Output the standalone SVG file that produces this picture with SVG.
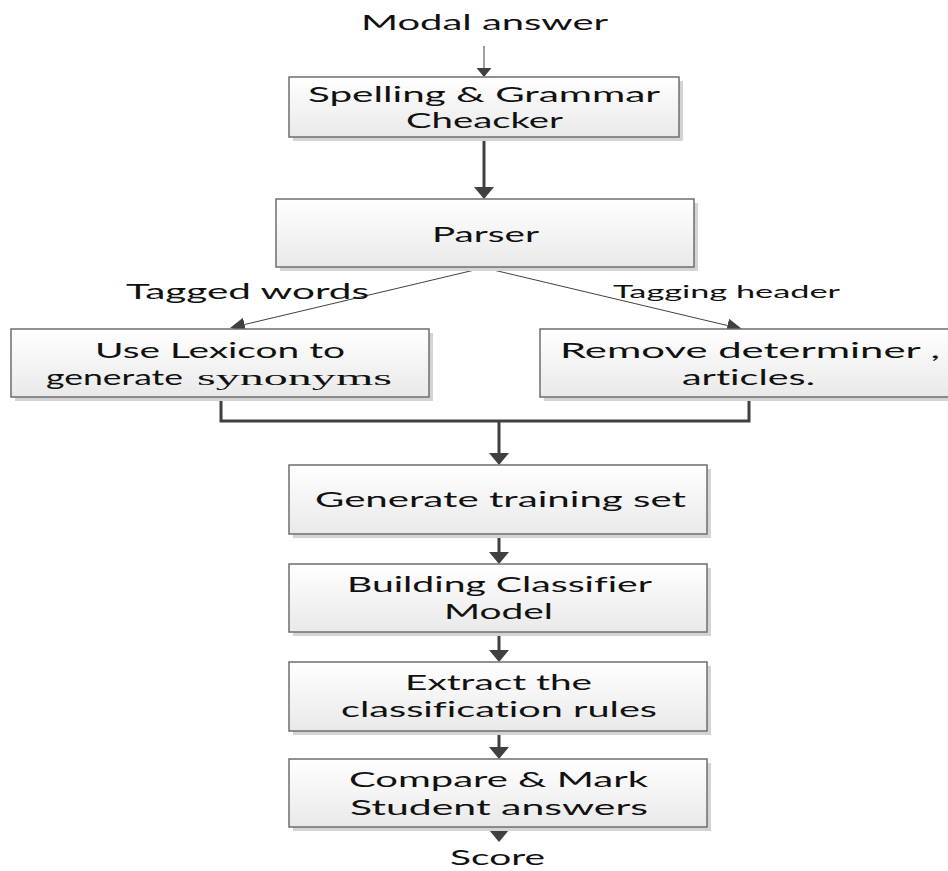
<svg xmlns="http://www.w3.org/2000/svg" width="948" height="871" viewBox="0 0 948 871">
<style>
  .box{fill:url(#gf);stroke:#6e6e6e;stroke-width:1.5}
  .sh{fill:#d4d4d4}
  .t{font-family:Lato,"Open Sans",sans-serif;font-size:21px;fill:#111;font-variant-ligatures:none}
  .ts{font-family:Lato,"Open Sans",sans-serif;font-size:16.5px;fill:#111;font-variant-ligatures:none}
  .tr{font-family:"Liberation Serif","Times New Roman",serif;font-size:21px;fill:#111}
  .thick{stroke:#404040;stroke-width:3;fill:none}
  .thin{stroke:#404040;stroke-width:1;fill:none}
</style>
<defs>
  <linearGradient id="gf" x1="0" y1="0" x2="0" y2="1">
    <stop offset="0" stop-color="#ffffff"/>
    <stop offset="1" stop-color="#e9e9e9"/>
  </linearGradient>
  <marker id="ah" markerUnits="userSpaceOnUse" markerWidth="14" markerHeight="22" viewBox="0 -11 14 22" refX="0" refY="0" orient="auto">
    <path d="M0,-10 L12,0 L0,10 z" fill="#404040"/>
  </marker>
  <marker id="as" markerUnits="userSpaceOnUse" markerWidth="10" markerHeight="16" viewBox="0 -8 10 16" refX="0" refY="0" orient="auto">
    <path d="M0,-7.5 L9,0 L0,7.5 z" fill="#404040"/>
  </marker>
  <marker id="ab" markerUnits="userSpaceOnUse" markerWidth="16" markerHeight="16" viewBox="0 -8 16 16" refX="0" refY="0" orient="auto">
    <path d="M0,-7 L15,0 L0,7 z" fill="#404040"/>
  </marker>
</defs>
<rect width="948" height="871" fill="#ffffff"/>

<g id="connectors">
  <line class="thin" x1="484" y1="46" x2="484" y2="68" marker-end="url(#as)"/>
  <line class="thick" x1="484" y1="137" x2="484" y2="187" marker-end="url(#ah)"/>
  <line class="thin" x1="483" y1="268" x2="244.6" y2="324.5" marker-end="url(#ab)"/>
  <line class="thin" x1="485" y1="268" x2="727.4" y2="325.5" marker-end="url(#ab)"/>
  <polyline class="thick" points="221,397 221,421 749,421 749,397"/>
  <line class="thick" x1="499" y1="421" x2="499" y2="453" marker-end="url(#ah)"/>
  <line class="thick" x1="499" y1="534" x2="499" y2="552" marker-end="url(#ah)"/>
  <line class="thick" x1="499" y1="632" x2="499" y2="650" marker-end="url(#ah)"/>
  <line class="thick" x1="499" y1="731" x2="499" y2="747" marker-end="url(#ah)"/>
  <line class="thick" x1="499" y1="827" x2="499" y2="830" marker-end="url(#ah)"/>
</g>

<g id="modal">
  <text class="t" x="361" y="30" textLength="247" lengthAdjust="spacingAndGlyphs">Modal answer</text>
</g>

<g id="spell">
  <rect class="sh" x="293" y="81" width="390" height="60"/>
  <rect class="box" x="289" y="77" width="390" height="60"/>
  <text class="t" x="308" y="102" textLength="352" lengthAdjust="spacingAndGlyphs">Spelling &amp; Grammar</text>
  <text class="t" x="406" y="128" textLength="157" lengthAdjust="spacingAndGlyphs">Cheacker</text>
</g>

<g id="parser">
  <rect class="sh" x="280" y="203" width="418" height="68"/>
  <rect class="box" x="276" y="199" width="418" height="68"/>
  <text class="t" x="432" y="242" textLength="107" lengthAdjust="spacingAndGlyphs">Parser</text>
</g>

<g id="label-tagged">
  <text class="t" x="126" y="299" textLength="243" lengthAdjust="spacingAndGlyphs">Tagged words</text>
</g>
<g id="label-header">
  <text class="ts" x="613" y="298" textLength="227" lengthAdjust="spacingAndGlyphs">Tagging header</text>
</g>

<g id="lexicon">
  <rect class="sh" x="15" y="333" width="418" height="68"/>
  <rect class="box" x="11" y="329" width="418" height="68"/>
  <text class="t" x="95" y="358" textLength="250" lengthAdjust="spacingAndGlyphs">Use Lexicon to</text>
  <text class="t" x="46" y="385" textLength="137" lengthAdjust="spacingAndGlyphs">generate</text>
  <text class="tr" x="197" y="385" textLength="195" lengthAdjust="spacingAndGlyphs">synonyms</text>
</g>

<g id="remove">
  <rect class="sh" x="544" y="333" width="418" height="68"/>
  <rect class="box" x="540" y="329" width="418" height="68"/>
  <text class="t" x="560" y="358" textLength="380" lengthAdjust="spacingAndGlyphs">Remove  determiner ,</text>
  <text class="t" x="682" y="385" textLength="133" lengthAdjust="spacingAndGlyphs">articles.</text>
</g>

<g id="training">
  <rect class="sh" x="293" y="469" width="418" height="69"/>
  <rect class="box" x="289" y="465" width="418" height="69"/>
  <text class="t" x="315" y="507" textLength="371" lengthAdjust="spacingAndGlyphs">Generate training set</text>
</g>

<g id="classifier">
  <rect class="sh" x="293" y="568" width="418" height="68"/>
  <rect class="box" x="289" y="564" width="418" height="68"/>
  <text class="t" x="347" y="592" textLength="305" lengthAdjust="spacingAndGlyphs">Building Classifier</text>
  <text class="t" x="444" y="619" textLength="109" lengthAdjust="spacingAndGlyphs">Model</text>
</g>

<g id="extract">
  <rect class="sh" x="293" y="666" width="418" height="69"/>
  <rect class="box" x="289" y="662" width="418" height="69"/>
  <text class="t" x="405" y="690" textLength="187" lengthAdjust="spacingAndGlyphs">Extract the</text>
  <text class="t" x="341" y="717" textLength="316" lengthAdjust="spacingAndGlyphs">classification rules</text>
</g>

<g id="compare">
  <rect class="sh" x="293" y="763" width="418" height="68"/>
  <rect class="box" x="289" y="759" width="418" height="68"/>
  <text class="t" x="349" y="787" textLength="299" lengthAdjust="spacingAndGlyphs">Compare &amp; Mark</text>
  <text class="t" x="350" y="815" textLength="298" lengthAdjust="spacingAndGlyphs">Student answers</text>
</g>

<g id="score">
  <text class="t" x="450" y="865" textLength="95" lengthAdjust="spacingAndGlyphs">Score</text>
</g>
</svg>
